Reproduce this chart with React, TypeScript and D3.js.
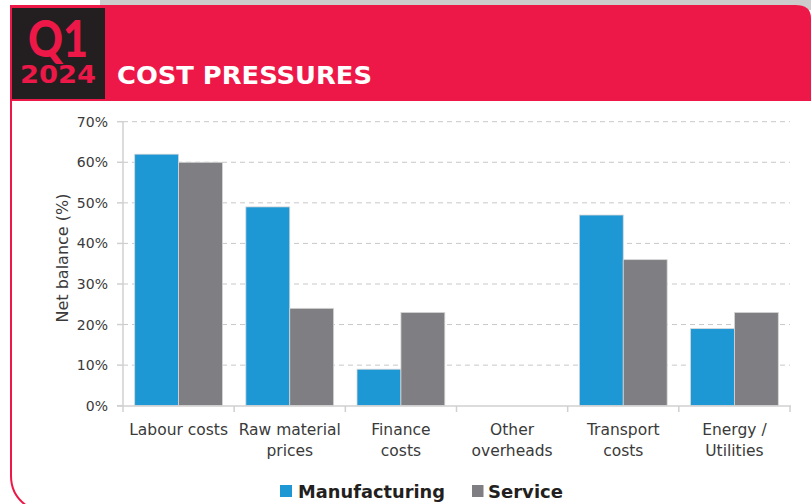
import React from "react";
import * as d3 from "d3";

const categories: string[][] = [
  ["Labour costs"],
  ["Raw material", "prices"],
  ["Finance", "costs"],
  ["Other", "overheads"],
  ["Transport", "costs"],
  ["Energy /", "Utilities"],
];
const manufacturing = [62, 49, 9, 0, 47, 19];
const service = [60, 24, 23, 0, 36, 23];
const yTicks = [0, 10, 20, 30, 40, 50, 60, 70];
const seriesNames = ["Manufacturing", "Service"];
const colors = ["#1E98D5", "#7F7F83"];

const W = 811;
const H = 504;
const FONT = "'DejaVu Sans', sans-serif";

export default function App() {
  const x = d3
    .scaleBand<number>()
    .domain(categories.map((_, i) => i))
    .range([123, 790])
    .paddingInner(0)
    .paddingOuter(0);
  const y = d3.scaleLinear().domain([0, 70]).range([405.7, 121.7]);
  const bw = x.bandwidth();
  const inner = d3
    .scaleBand<number>()
    .domain([0, 1])
    .range([bw * 0.105, bw * 0.895]);

  const series = [manufacturing, service];

  return (
    <svg
      width={W}
      height={H}
      style={{ position: "absolute", left: 0, top: 0, background: "#fff" }}
    >
      {/* top grey strip */}
      <rect x={100} y={0} width={W - 100} height={10} fill="#cccccc" />
      {/* card left border with rounded bottom */}
      <path
        d={`M11,100 L11,476 Q11,495 27,506`}
        fill="none"
        stroke="#EE1848"
        strokeWidth={2}
      />
      {/* red banner */}
      <path
        d={`M10,5 L795,5 Q811,5 811,18 L811,101 L10,101 Z`}
        fill="#EE1848"
      />
      <rect x={12} y={8} width={93} height={91} fill="#231F20" />
      <text
        x={28}
        y={57}
        fill="#EE1848"
        fontFamily="Lato, sans-serif"
        fontWeight={900}
        fontSize={52}
        textLength={60}
        lengthAdjust="spacingAndGlyphs"
      >
        Q1
      </text>
      <text
        x={20}
        y={83}
        fill="#EE1848"
        fontFamily={FONT}
        fontWeight={700}
        fontSize={25}
        textLength={76}
        lengthAdjust="spacingAndGlyphs"
      >
        2024
      </text>
      <text
        x={117}
        y={84}
        fill="#fff"
        fontFamily={FONT}
        fontWeight={700}
        fontSize={25}
        textLength={255}
        lengthAdjust="spacingAndGlyphs"
      >
        COST PRESSURES
      </text>

      {/* gridlines */}
      {yTicks.map((t) => (
        <g key={t}>
          {t > 0 && (
            <line
              x1={123}
              x2={790}
              y1={y(t)}
              y2={y(t)}
              stroke="#c8c8c8"
              strokeWidth={1}
              strokeDasharray="5,4"
            />
          )}
          <line x1={117} x2={123} y1={y(t)} y2={y(t)} stroke="#d0d0d0" strokeWidth={1.5} />
          <text
            x={108}
            y={y(t)}
            dy="0.36em"
            textAnchor="end"
            fill="#3a3a3a"
            fontFamily={FONT}
            fontSize={14}
          >
            {t}%
          </text>
        </g>
      ))}

      {/* bars */}
      {categories.map((_, i) =>
        series.map((s, k) =>
          s[i] > 0 ? (
            <rect
              key={`${i}-${k}`}
              x={(x(i) as number) + (inner(k) as number)}
              y={y(s[i])}
              width={inner.bandwidth()}
              height={y(0) - y(s[i])}
              fill={colors[k]}
              stroke="#d8d8d8"
              strokeWidth={0.8}
            />
          ) : null
        )
      )}

      {/* axes */}
      <line x1={123} x2={123} y1={121} y2={406} stroke="#d0d0d0" strokeWidth={1.5} />
      <line x1={117} x2={791} y1={406} y2={406} stroke="#d0d0d0" strokeWidth={1.5} />
      {d3.range(categories.length + 1).map((j) => {
        const xx = 123 + j * bw;
        return (
          <line key={j} x1={xx} x2={xx} y1={406} y2={412} stroke="#d0d0d0" strokeWidth={1.5} />
        );
      })}

      {/* x labels */}
      {categories.map((lines, i) => (
        <text
          key={i}
          textAnchor="middle"
          fill="#3a3a3a"
          fontFamily={FONT}
          fontSize={15.5}
        >
          {lines.map((l, j) => (
            <tspan key={j} x={(x(i) as number) + bw / 2} y={435 + j * 21}>
              {l}
            </tspan>
          ))}
        </text>
      ))}

      {/* y label */}
      <text
        transform={`translate(68,258) rotate(-90)`}
        textAnchor="middle"
        fill="#3a3a3a"
        fontFamily={FONT}
        fontSize={16}
      >
        Net balance (%)
      </text>

      {/* legend */}
      <rect x={280} y={485} width={12} height={12} fill={colors[0]} />
      <text x={298} y={497.5} fill="#231F20" fontFamily={FONT} fontWeight={700} fontSize={18.5} textLength={147} lengthAdjust="spacingAndGlyphs">
        {seriesNames[0]}
      </text>
      <rect x={472} y={485} width={11.5} height={12} fill={colors[1]} />
      <text x={488} y={497.5} fill="#231F20" fontFamily={FONT} fontWeight={700} fontSize={18.5} textLength={75} lengthAdjust="spacingAndGlyphs">
        {seriesNames[1]}
      </text>
    </svg>
  );
}
